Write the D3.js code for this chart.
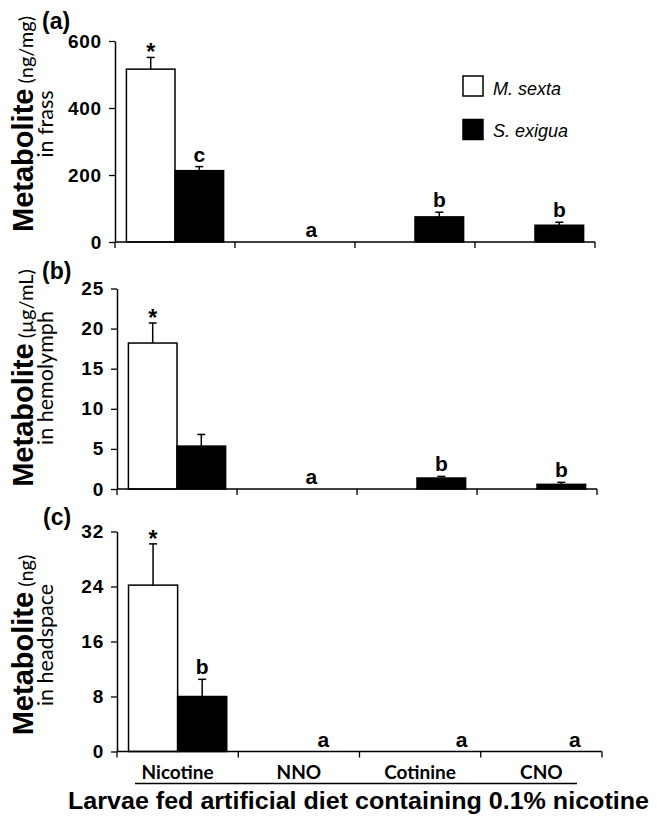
<!DOCTYPE html>
<html><head><meta charset="utf-8">
<script src="https://cdn.jsdelivr.net/npm/d3@7"></script>
<style>body{margin:0;background:#fff}svg{display:block}</style>
</head><body><svg id="chart" width="657" height="820"></svg>
<script>
// ---------- DATA ----------
const categories = ["Nicotine", "NNO", "Cotinine", "CNO"];
const seriesNames = ["M. sexta", "S. exigua"];

// (a) Metabolite (ng/mg) in frass
const frassTicks = [0, 200, 400, 600];
const frassMsexta = [516, 0, 0, 0];
const frassMsextaErr = [35, 0, 0, 0];
const frassSexigua = [213, 0, 75, 50];
const frassSexiguaErr = [12, 0, 14, 9];
const frassLettersMsexta = ["*", "", "", ""];
const frassLettersSexigua = ["c", "a", "b", "b"];

// (b) Metabolite (µg/mL) in hemolymph
const hemoTicks = [0, 5, 10, 15, 20, 25];
const hemoMsexta = [18.2, 0, 0, 0];
const hemoMsextaErr = [2.5, 0, 0, 0];
const hemoSexigua = [5.35, 0, 1.37, 0.58];
const hemoSexiguaErr = [1.45, 0, 0.2, 0.25];
const hemoLettersMsexta = ["*", "", "", ""];
const hemoLettersSexigua = ["", "a", "b", "b"];

// (c) Metabolite (ng) in headspace
const headTicks = [0, 8, 16, 24, 32];
const headMsexta = [24.2, 0, 0, 0];
const headMsextaErr = [6.0, 0, 0, 0];
const headSexigua = [8.0, 0, 0, 0];
const headSexiguaErr = [2.5, 0, 0, 0];
const headLettersMsexta = ["*", "", "", ""];
const headLettersSexigua = ["b", "a", "a", "a"];

const xTitle = "Larvae fed artificial diet containing 0.1% nicotine";

// ---------- LAYOUT ----------
const panels = [
  { tag: "(a)", ticks: frassTicks, vals: [frassMsexta, frassSexigua], errs: [frassMsextaErr, frassSexiguaErr],
    letters: [frassLettersMsexta, frassLettersSexigua], unitBold: "Metabolite", unit: " (ng/mg)", line2: "in frass",
    x0: 115, x1: 595, yTop: 41, yBase: 242, tagX: 42, tagY: 29, labCy: 124, letterDx: [0, -8, 0, 0] },
  { tag: "(b)", ticks: hemoTicks, vals: [hemoMsexta, hemoSexigua], errs: [hemoMsextaErr, hemoSexiguaErr],
    letters: [hemoLettersMsexta, hemoLettersSexigua], unitBold: "Metabolite", unit: " (µg/mL)", line2: "in hemolymph",
    x0: 117, x1: 597, yTop: 288.5, yBase: 489, tagX: 42, tagY: 279, labCy: 378, letterDx: [0, -10, 0, 0] },
  { tag: "(c)", ticks: headTicks, vals: [headMsexta, headSexigua], errs: [headMsextaErr, headSexiguaErr],
    letters: [headLettersMsexta, headLettersSexigua], unitBold: "Metabolite", unit: " (ng)", line2: "in headspace",
    x0: 117, x1: 602, yTop: 531.5, yBase: 751.5, tagX: 43, tagY: 525, labCy: 645, letterDx: [0, 0, 17, 9] }
];

const svg = d3.select("#chart");
const ARIAL = "'Liberation Sans', Arial, sans-serif";
const CAL = "Lato, 'Liberation Sans', sans-serif";

panels.forEach((p, pi) => {
  const g = svg.append("g");
  const x = d3.scaleBand().domain(categories).range([p.x0, p.x1]).paddingInner(0).paddingOuter(0);
  const bw = x.bandwidth();
  const xs = d3.scaleBand().domain(seriesNames).range([bw * 0.095, bw * 0.905]).padding(0);
  const y = d3.scaleLinear().domain([0, d3.max(p.ticks)]).range([p.yBase, p.yTop]);

  // Y axis
  const yAxis = g.append("g").attr("transform", `translate(${p.x0},0)`)
    .call(d3.axisLeft(y).tickValues(p.ticks).tickSize(6).tickPadding(7).tickSizeOuter(0));
  yAxis.select(".domain").attr("stroke", "#000").attr("stroke-width", 1.5);
  yAxis.selectAll(".tick line").attr("stroke", "#000").attr("stroke-width", 1.3);
  yAxis.selectAll(".tick text").attr("font-family", ARIAL).attr("font-weight", "bold")
    .attr("font-size", 19).attr("letter-spacing", 0.8).attr("fill", "#000");

  // bars
  seriesNames.forEach((s, si) => {
    categories.forEach((c, ci) => {
      const v = p.vals[si][ci];
      const e = p.errs[si][ci];
      const bx = x(c) + xs(s);
      if (v > 0) {
        g.append("rect").attr("x", bx).attr("y", y(v)).attr("width", xs.bandwidth())
          .attr("height", y(0) - y(v)).attr("fill", si === 0 ? "#fff" : "#000")
          .attr("stroke", "#000").attr("stroke-width", 1.5);
      }
      const cx = bx + xs.bandwidth() / 2;
      if (e > 0) {
        g.append("line").attr("x1", cx).attr("x2", cx).attr("y1", y(v)).attr("y2", y(v + e))
          .attr("stroke", "#000").attr("stroke-width", 1.5);
        g.append("line").attr("x1", cx - 4).attr("x2", cx + 4).attr("y1", y(v + e)).attr("y2", y(v + e))
          .attr("stroke", "#000").attr("stroke-width", 1.5);
      }
      const L = p.letters[si][ci];
      if (L) {
        const top = y(v + e);
        g.append("text").attr("x", cx + (si === 1 ? p.letterDx[ci] : 0))
          .attr("y", L === "*" ? top + 3 : top - 5)
          .attr("text-anchor", "middle").attr("font-family", ARIAL).attr("font-weight", "bold")
          .attr("font-size", L === "*" ? 23 : 21).attr("fill", "#000").text(L);
      }
    });
  });

  // X axis
  const xAxisG = g.append("g").attr("transform", `translate(0,${p.yBase})`);
  xAxisG.append("line").attr("x1", p.x0).attr("x2", p.x1).attr("y1", 0).attr("y2", 0)
    .attr("stroke", "#000").attr("stroke-width", 1.5);
  const bounds = categories.map(c => x(c)).concat([p.x1]);
  xAxisG.selectAll("line.tk").data(bounds).enter().append("line").attr("class", "tk")
    .attr("x1", d => d).attr("x2", d => d).attr("y1", 0).attr("y2", 6)
    .attr("stroke", "#000").attr("stroke-width", 1.3);

  // panel tag
  g.append("text").attr("x", p.tagX).attr("y", p.tagY).attr("font-family", ARIAL)
    .attr("font-weight", "bold").attr("font-size", 23).attr("fill", "#000").text(p.tag);

  // y label
  const t1 = g.append("text").attr("transform", `translate(33,${p.labCy}) rotate(-90)`)
    .attr("text-anchor", "middle").attr("fill", "#000");
  t1.append("tspan").attr("font-family", ARIAL).attr("font-weight", "bold").attr("font-size", 29).text(p.unitBold);
  t1.append("tspan").attr("font-family", CAL).attr("font-size", 20).text(p.unit);
  g.append("text").attr("transform", `translate(53,${p.labCy}) rotate(-90)`)
    .attr("text-anchor", "middle").attr("font-family", CAL).attr("font-size", 21.5).attr("fill", "#000").text(p.line2);

  // category labels under last panel
  if (pi === panels.length - 1) {
    g.selectAll("text.cat").data(categories).enter().append("text").attr("class", "cat")
      .attr("x", d => x(d) + bw / 2).attr("y", 779).attr("text-anchor", "middle")
      .attr("font-family", CAL).attr("font-weight", "bold").attr("font-size", 19).attr("fill", "#000").text(d => d);
    g.append("line").attr("x1", 135).attr("x2", 577).attr("y1", 783.5).attr("y2", 783.5)
      .attr("stroke", "#000").attr("stroke-width", 1.5);
    g.append("text").attr("x", 68).attr("y", 809).attr("font-family", ARIAL).attr("font-weight", "bold")
      .attr("font-size", 23.5).attr("textLength", 581).attr("lengthAdjust", "spacingAndGlyphs")
      .attr("fill", "#000").text(xTitle);
  }
});

// legend (panel a)
const legend = svg.append("g");
seriesNames.forEach((s, i) => {
  legend.append("rect").attr("x", 463).attr("y", 76 + i * 43.5).attr("width", 20).attr("height", 20)
    .attr("fill", i === 0 ? "#fff" : "#000").attr("stroke", "#000").attr("stroke-width", 1.5);
  legend.append("text").attr("x", 493).attr("y", 95 + i * 42).attr("font-family", ARIAL)
    .attr("font-style", "italic").attr("font-size", 18).attr("fill", "#000").text(s);
});
</script>
</body></html>
